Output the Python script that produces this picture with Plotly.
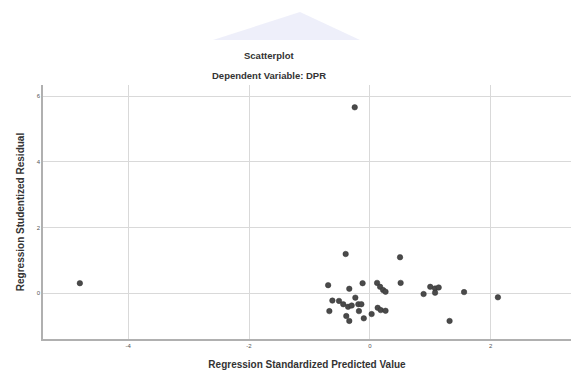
import plotly.graph_objects as go

# Regression standardized predicted value (x) and studentized residual (y)
pred = [-0.25, -4.80, -0.40, 0.50, -0.69, -0.12, 0.12, 0.51, -0.34, 0.17,
        0.22, 0.26, 0.89, 1.00, 1.08, 1.14, 1.08, 1.56, 2.12, -0.62,
        -0.51, -0.44, -0.36, -0.24, -0.19, -0.14, -0.67, -0.18, -0.39, -0.34,
        -0.10, 0.03, 0.13, 0.18, 0.26, 1.32, -0.30]
resid = [5.66, 0.30, 1.19, 1.09, 0.24, 0.30, 0.31, 0.31, 0.13, 0.19,
         0.09, 0.04, -0.03, 0.19, 0.14, 0.17, 0.01, 0.03, -0.13, -0.23,
         -0.24, -0.34, -0.42, -0.14, -0.34, -0.34, -0.55, -0.55, -0.70, -0.85,
         -0.77, -0.64, -0.45, -0.52, -0.54, -0.85, -0.38]

x_ticks = [-4, -2, 0, 2]
y_ticks = [0, 2, 4, 6]

W, H = 571, 372
L, R, T, B = 43, 0, 85, 33
pw = W - L - R
ph = H - T - B

fig = go.Figure()
fig.add_trace(go.Scatter(
    x=pred, y=resid, mode="markers",
    marker=dict(size=5.5, color="#4a4a4a", line=dict(color="#333333", width=0.5)),
    showlegend=False, hoverinfo="x+y"))

def px_x(p):
    return (p - L) / pw

def px_y(p):
    return (H - B - p) / ph

# faint watermark roof shape in the top margin
fig.add_shape(type="path", xref="paper", yref="paper",
              path=f"M {px_x(213)} {px_y(40)} L {px_x(300)} {px_y(12)} L {px_x(360)} {px_y(40)} Z",
              fillcolor="rgba(205,208,240,0.35)", line=dict(width=0), layer="below")

fig.update_layout(
    width=W, height=H,
    margin=dict(l=L, r=R, t=T, b=B, autoexpand=False),
    paper_bgcolor="white", plot_bgcolor="white",
    font=dict(family="Liberation Sans, Arial, sans-serif", color="#333333"),
    xaxis=dict(range=[-5.41, 3.33], tickvals=x_ticks, ticktext=[str(v) for v in x_ticks],
               showgrid=True, gridcolor="#d9d9d9", gridwidth=1, zeroline=False,
               showline=True, linecolor="#b0b0b0", linewidth=1.5, ticks="",
               automargin=False,
               tickfont=dict(size=6, color="#555555"),
               title=dict(text="<b>Regression Standardized Predicted Value</b>",
                          font=dict(size=10, color="#333333"), standoff=13)),
    yaxis=dict(range=[-1.40, 6.34], tickvals=y_ticks, ticktext=[str(v) for v in y_ticks],
               showgrid=True, gridcolor="#d9d9d9", gridwidth=1, zeroline=False,
               showline=True, linecolor="#b0b0b0", linewidth=1.5, ticks="",
               automargin=False,
               tickfont=dict(size=6, color="#555555"),
               title=dict(text="<b>Regression Studentized Residual</b>",
                          font=dict(size=10, color="#333333"), standoff=10)),
    annotations=[
        dict(text="<b>Scatterplot</b>", xref="paper", yref="paper",
             x=px_x(269), y=px_y(55), yanchor="middle", showarrow=False,
             font=dict(size=9.5, color="#333333")),
        dict(text="<b>Dependent Variable: DPR</b>", xref="paper", yref="paper",
             x=px_x(269), y=px_y(75), yanchor="middle", showarrow=False,
             font=dict(size=9.5, color="#333333")),
    ],
)

fig.write_html("out.html", config={"displayModeBar": False},
               post_script="document.body.style.margin='0px';")
